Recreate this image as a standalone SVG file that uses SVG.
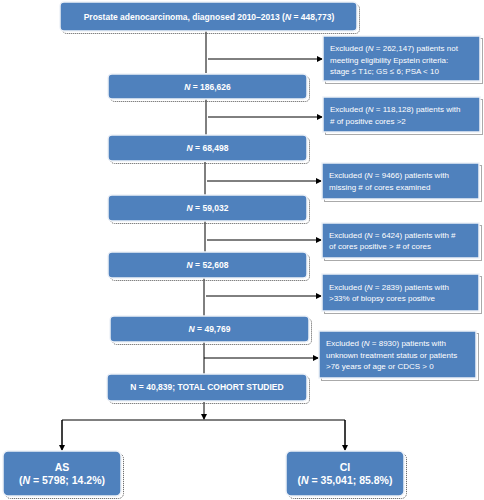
<svg xmlns="http://www.w3.org/2000/svg" width="484" height="500" viewBox="0 0 484 500">
<defs>
<marker id="ah" markerWidth="6" markerHeight="6" refX="5" refY="3" orient="auto" markerUnits="userSpaceOnUse">
<path d="M0,0 L6,3 L0,6 z" fill="#000"/>
</marker>
</defs>
<style>
.box{fill:#4f81bd;stroke:#eef2f8;stroke-width:1.5}
.sh{fill:none;stroke:#555;stroke-width:1;stroke-dasharray:1 1}
.t{font-family:"Liberation Sans",Arial,sans-serif;fill:#fff}
.b{font-weight:bold;font-size:8.5px;text-anchor:middle}
.r{font-size:8px}
.big{font-weight:bold;font-size:10.5px;text-anchor:middle}
.ln{stroke:#000;stroke-width:1;fill:none}
.ar{stroke:#000;stroke-width:1;fill:none;marker-end:url(#ah)}
</style>
<rect width="484" height="500" fill="#fff"/>
<g id="connectors">
<line class="ln" x1="206" y1="31" x2="206" y2="73"/>
<line class="ar" x1="208" y1="59" x2="322" y2="59"/>
<line class="ln" x1="206" y1="99" x2="206" y2="135"/>
<line class="ar" x1="208" y1="117" x2="322" y2="117"/>
<line class="ln" x1="205" y1="162" x2="205" y2="195"/>
<line class="ar" x1="207" y1="181" x2="321" y2="181"/>
<line class="ln" x1="205" y1="221" x2="205" y2="252"/>
<line class="ar" x1="207" y1="240" x2="321" y2="240"/>
<line class="ln" x1="204" y1="278" x2="204" y2="316"/>
<line class="ar" x1="206" y1="296" x2="321" y2="296"/>
<line class="ln" x1="204" y1="342" x2="204" y2="374"/>
<line class="ar" x1="204" y1="358" x2="318" y2="358"/>
<line class="ar" x1="204" y1="402" x2="204" y2="419"/>
<polyline class="ln" points="62,448 62,420 345,420 345,448"/>
<line class="ar" x1="62" y1="420" x2="62" y2="450"/>
<line class="ar" x1="345" y1="420" x2="345" y2="450"/>
</g>
<g id="n0">
<rect class="sh" x="62.5" y="4.5" width="297" height="29" rx="4"/>
<rect class="box" x="60" y="2" width="297" height="29" rx="4"/>
<text class="t b" x="209" y="19.5">Prostate adenocarcinoma, diagnosed 2010–2013 (<tspan font-style="italic">N</tspan> = 448,773)</text>
</g>
<g id="e1">
<rect class="sh" x="325.5" y="38.5" width="157" height="45"/>
<rect class="box" x="323" y="36" width="157" height="45"/>
<text class="t r" x="330" y="51">Excluded (<tspan font-style="italic">N</tspan> = 262,147) patients not</text>
<text class="t r" x="330" y="62.5">meeting eligibility Epstein criteria:</text>
<text class="t r" x="330" y="74">stage ≤ T1c; GS ≤ 6; PSA &lt; 10</text>
</g>
<g id="n1">
<rect class="sh" x="110.5" y="76.5" width="199" height="25" rx="4"/>
<rect class="box" x="108" y="74" width="199" height="25" rx="4"/>
<text class="t b" x="207.5" y="89.5"><tspan font-style="italic">N</tspan> = 186,626</text>
</g>
<g id="e2">
<rect class="sh" x="325.5" y="99.5" width="157" height="35"/>
<rect class="box" x="323" y="97" width="157" height="35"/>
<text class="t r" x="330" y="112">Excluded (<tspan font-style="italic">N</tspan> = 118,128) patients with</text>
<text class="t r" x="330" y="123.5"># of positive cores &gt;2</text>
</g>
<g id="n2">
<rect class="sh" x="110.5" y="137.5" width="199" height="26" rx="4"/>
<rect class="box" x="108" y="135" width="199" height="26" rx="4"/>
<text class="t b" x="207.5" y="150.5"><tspan font-style="italic">N</tspan> = 68,498</text>
</g>
<g id="e3">
<rect class="sh" x="324.5" y="165.5" width="157" height="36"/>
<rect class="box" x="322" y="163" width="157" height="36"/>
<text class="t r" x="329" y="178">Excluded (<tspan font-style="italic">N</tspan> = 9466) patients with</text>
<text class="t r" x="329" y="189.5">missing # of cores examined</text>
</g>
<g id="n3">
<rect class="sh" x="110.5" y="197.5" width="199" height="26" rx="4"/>
<rect class="box" x="108" y="195" width="199" height="26" rx="4"/>
<text class="t b" x="207.5" y="210.5"><tspan font-style="italic">N</tspan> = 59,032</text>
</g>
<g id="e4">
<rect class="sh" x="324.5" y="225.5" width="157" height="35"/>
<rect class="box" x="322" y="223" width="157" height="35"/>
<text class="t r" x="329" y="237.5">Excluded (<tspan font-style="italic">N</tspan> = 6424) patients with #</text>
<text class="t r" x="329" y="249">of cores positive &gt; # of cores</text>
</g>
<g id="n4">
<rect class="sh" x="110.5" y="254.5" width="199" height="26" rx="4"/>
<rect class="box" x="108" y="252" width="199" height="26" rx="4"/>
<text class="t b" x="207.5" y="267.5"><tspan font-style="italic">N</tspan> = 52,608</text>
</g>
<g id="e5">
<rect class="sh" x="324.5" y="276.5" width="157" height="37"/>
<rect class="box" x="322" y="274" width="157" height="37"/>
<text class="t r" x="329" y="289.5">Excluded (<tspan font-style="italic">N</tspan> = 2839) patients with</text>
<text class="t r" x="329" y="301">&gt;33% of biopsy cores positive</text>
</g>
<g id="n5">
<rect class="sh" x="112.5" y="318.5" width="199" height="26" rx="4"/>
<rect class="box" x="110" y="316" width="199" height="26" rx="4"/>
<text class="t b" x="209.5" y="331.5"><tspan font-style="italic">N</tspan> = 49,769</text>
</g>
<g id="e6">
<rect class="sh" x="321.5" y="333.5" width="157" height="47"/>
<rect class="box" x="319" y="331" width="157" height="47"/>
<text class="t r" x="326" y="346">Excluded (<tspan font-style="italic">N</tspan> = 8930) patients with</text>
<text class="t r" x="326" y="357.5">unknown treatment status or patients</text>
<text class="t r" x="326" y="369">&gt;76 years of age or CDCS &gt; 0</text>
</g>
<g id="n6">
<rect class="sh" x="109.5" y="376.5" width="200" height="27" rx="4"/>
<rect class="box" x="107" y="374" width="200" height="27" rx="4"/>
<text class="t b" x="207" y="390">N = 40,839; TOTAL COHORT STUDIED</text>
</g>
<g id="as">
<rect class="sh" x="5.5" y="453.5" width="118" height="45" rx="5"/>
<rect class="box" x="3" y="451" width="118" height="45" rx="5"/>
<text class="t big" x="62" y="470.5">AS</text>
<text class="t big" x="62" y="484">(<tspan font-style="italic">N</tspan> = 5798; 14.2%)</text>
</g>
<g id="ci">
<rect class="sh" x="288.5" y="453.5" width="118" height="45" rx="5"/>
<rect class="box" x="286" y="451" width="118" height="45" rx="5"/>
<text class="t big" x="345" y="470.5">CI</text>
<text class="t big" x="345" y="484">(<tspan font-style="italic">N</tspan> = 35,041; 85.8%)</text>
</g>
</svg>
